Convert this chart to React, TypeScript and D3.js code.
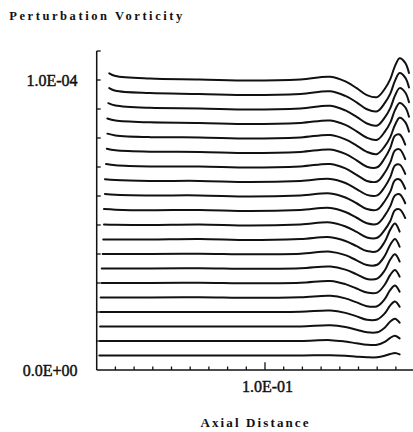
import React from "react";
import * as d3 from "d3";

// Axial distance grid shared by every profile (after each profile's own start point)
const xGrid = [0.02, 0.0385, 0.065, 0.092, 0.119, 0.135, 0.143, 0.149, 0.1545, 0.16, 0.164, 0.167, 0.1695, 0.172, 0.175, 0.177];

// First axial position of each profile, bottom (1) to top (20)
const xStart = [0.0114, 0.0118, 0.0118, 0.0121, 0.0121, 0.0127, 0.0127, 0.0132, 0.0135, 0.0139, 0.0139, 0.0144, 0.0144, 0.015, 0.0154, 0.0157, 0.0157, 0.0162, 0.0167, 0.0167];

// Perturbation vorticity (units of 1e-6), value at xStart followed by values at xGrid
const curve01 = [5, 5, 5, 5, 5, 5, 5.1, 4.9, 4.6, 4.4, 4.4, 4.9, 5.5, 5.9, 5.4, null, null];
const curve02 = [10, 10, 10, 10, 10, 10, 10.3, 9.8, 9.2, 8.7, 8.7, 9.7, 11.1, 11.8, 10.9, null, null];
const curve03 = [15, 15, 15, 15, 15, 15, 15.4, 14.8, 13.9, 13.0, 13.0, 14.6, 16.7, 17.7, 16.3, null, null];
const curve04 = [20, 20, 20, 20, 20, 20.1, 20.5, 19.7, 18.5, 17.3, 17.4, 19.5, 22.3, 23.6, 21.8, null, null];
const curve05 = [25, 25, 25, 25.1, 24.9, 25.1, 25.6, 24.7, 23.3, 22.0, 22.0, 24.4, 27.6, 29.1, 27.0, null, null];
const curve06 = [30, 30, 30, 30.1, 29.9, 30.1, 30.7, 29.6, 28.1, 26.7, 26.7, 29.4, 32.8, 34.5, 32.2, null, null];
const curve07 = [35, 35, 35, 35.1, 34.9, 35.1, 35.7, 34.6, 33.0, 31.4, 31.5, 34.3, 38.1, 39.9, 37.4, null, null];
const curve08 = [40, 40, 40, 40.1, 39.9, 40.1, 40.8, 39.6, 37.8, 36.2, 36.3, 39.3, 43.2, 45.2, 42.5, null, null];
const curve09 = [45, 45, 45, 45.2, 44.8, 45.2, 45.8, 44.5, 42.7, 41.0, 41.0, 44.2, 48.4, 50.5, 47.7, null, null];
const curve10 = [50.2, 50.1, 50.0, 50.2, 49.8, 50.2, 50.9, 49.5, 47.6, 45.7, 45.6, 48.3, 51.4, 55.1, 55.4, 52.4, null];
const curve11 = [55.5, 55.3, 55.1, 55.2, 54.8, 55.2, 55.9, 54.5, 52.5, 50.6, 50.4, 53.2, 56.5, 60.2, 60.6, 57.5, null];
const curve12 = [60.7, 60.4, 60.2, 60.2, 59.8, 60.2, 60.9, 59.5, 57.5, 55.5, 55.3, 58.2, 61.5, 65.4, 65.7, 62.5, null];
const curve13 = [65.8, 65.5, 65.2, 65.2, 64.8, 65.2, 65.9, 64.5, 62.4, 60.4, 60.2, 63.1, 66.5, 70.5, 70.8, 67.6, null];
const curve14 = [71.0, 70.6, 70.2, 70.2, 69.8, 70.2, 71.0, 69.5, 67.3, 65.2, 65.0, 68.0, 71.6, 75.7, 76.1, 72.7, null];
const curve15 = [76.3, 75.8, 75.3, 75.2, 74.8, 75.2, 76.0, 74.5, 72.3, 70.1, 69.9, 73.0, 76.6, 80.8, 81.2, 77.7, null];
const curve16 = [81.5, 80.9, 80.3, 80.2, 79.8, 80.2, 81.0, 79.5, 77.4, 75.2, 74.5, 77.1, 80.3, 84.5, 87.0, 85.5, 82.2];
const curve17 = [86.7, 86.0, 85.4, 85.2, 84.8, 85.2, 86.0, 84.5, 82.3, 80.1, 79.4, 82.1, 85.3, 89.6, 92.1, 90.6, 87.3];
const curve18 = [92.0, 91.2, 90.4, 90.2, 89.8, 90.2, 91.1, 89.5, 87.3, 85.0, 84.3, 87.0, 90.3, 94.6, 97.2, 95.7, 92.3];
const curve19 = [97.2, 96.3, 95.5, 95.2, 94.8, 95.2, 96.1, 94.5, 92.3, 89.9, 89.2, 92.0, 95.3, 99.7, 102.4, 100.8, 97.4];
const curve20 = [102.3, 101.4, 100.5, 100.2, 99.8, 100.2, 101.1, 99.5, 97.2, 94.8, 94.1, 96.9, 100.3, 104.8, 107.5, 105.9, 102.4];

const curves = [curve01, curve02, curve03, curve04, curve05, curve06, curve07, curve08, curve09, curve10,
  curve11, curve12, curve13, curve14, curve15, curve16, curve17, curve18, curve19, curve20];

const UNIT = 1e-6;
const yTickValues = [1e-5, 2e-5, 3e-5, 4e-5, 5e-5, 6e-5, 7e-5, 8e-5, 9e-5, 1e-4, 1.1e-4];
const yLabelValues = [0, 1e-4];
const yLabels = ["0.0E+00", "1.0E-04"];
const xTickValues = [0.02, 0.03, 0.04, 0.05, 0.06, 0.07, 0.08, 0.09, 0.1, 0.11, 0.12, 0.13, 0.14, 0.15, 0.16, 0.17, 0.18];
const xLabelValues = [0.1];
const xLabels = ["1.0E-01"];

const W = 413;
const H = 432;
const FONT = "'Liberation Serif', 'Times New Roman', serif";

export default function App() {
  const x = d3.scaleLinear().domain([0.01, 0.18]).range([96.7, 414.6]);
  const y = d3.scaleLinear().domain([0, 1.1e-4]).range([370, 51]);

  type P = { x: number; v: number | null };
  const line = d3
    .line<P>()
    .defined((d) => d.v != null)
    .x((d) => x(d.x))
    .y((d) => y((d.v as number) * UNIT))
    .curve(d3.curveCatmullRom.alpha(0.5));

  const paths = curves.map((c, i) => {
    const pts: P[] = c.map((v, j) => ({ x: j === 0 ? xStart[i] : xGrid[j - 1], v }));
    return line(pts.filter((p) => p.v != null)) || "";
  });

  return (
    <svg width={W} height={H} style={{ position: "absolute", left: 0, top: 0, background: "#fff" }}>
      <rect x={0} y={0} width={W} height={H} fill="#fff" />
      <text x={9.3} y={20} fontFamily={FONT} fontWeight="bold" fontSize={12.5} textLength={173} lengthAdjust="spacing" fill="#111">
        Perturbation Vorticity
      </text>

      {/* axes */}
      <line x1={x(0.01)} x2={x(0.01)} y1={y(0)} y2={y(1.1e-4)} stroke="#111" strokeWidth={1.5} />
      <line x1={x(0.01)} x2={x(0.18)} y1={y(0)} y2={y(0)} stroke="#111" strokeWidth={1.5} />
      {yTickValues.map((t) => (
        <line key={"yt" + t} x1={x(0.01)} x2={x(0.01) + 4} y1={y(t)} y2={y(t)} stroke="#111" strokeWidth={1.3} />
      ))}
      {xTickValues.map((t) => (
        <line key={"xt" + t} x1={x(t)} x2={x(t)} y1={y(0)} y2={y(0) - (xLabelValues.includes(t) ? 7.7 : 3.5)} stroke="#111" strokeWidth={1.3} />
      ))}
      {yLabelValues.map((v, i) => (
        <text key={"yl" + i} x={77.5} y={y(v) + 6} textAnchor="end" fontFamily={FONT} fontSize={16} fill="#111" stroke="#111" strokeWidth={0.45}>
          {yLabels[i]}
        </text>
      ))}
      {xLabelValues.map((v, i) => (
        <text key={"xl" + i} x={x(v) + 2.5} y={391.5} textAnchor="middle" fontFamily={FONT} fontSize={16} fill="#111" stroke="#111" strokeWidth={0.45}>
          {xLabels[i]}
        </text>
      ))}
      <text x={200.5} y={427} fontFamily={FONT} fontWeight="bold" fontSize={13} textLength={108} lengthAdjust="spacing" fill="#111">
        Axial Distance
      </text>

      {paths.map((d, i) => (
        <path key={"c" + i} d={d} fill="none" stroke="#111" strokeWidth={2} strokeLinejoin="round" strokeLinecap="round" />
      ))}
    </svg>
  );
}
